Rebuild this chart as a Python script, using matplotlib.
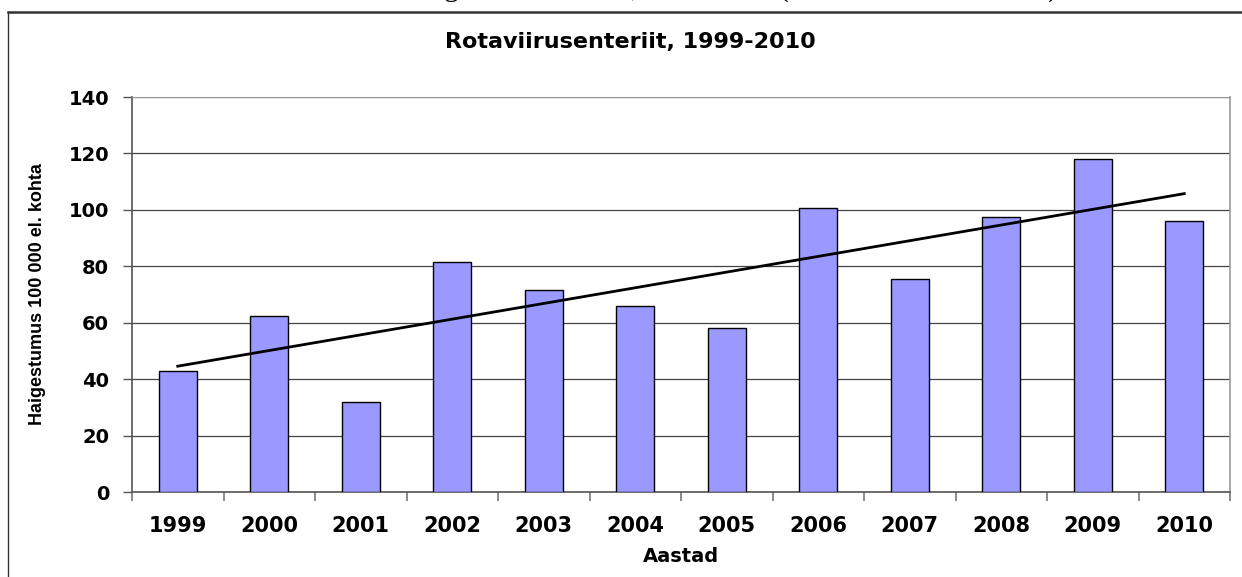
import numpy as np
import matplotlib
matplotlib.use("Agg")
import matplotlib.pyplot as plt
from matplotlib.lines import Line2D

# andmed (loetud jooniselt)
years = ["1999", "2000", "2001", "2002", "2003", "2004",
         "2005", "2006", "2007", "2008", "2009", "2010"]
incidence = [43, 62.5, 32, 81.5, 71.5, 66, 58, 100.5, 75.5, 97.5, 118, 96]
y_ticks = [0, 20, 40, 60, 80, 100, 120, 140]

W, H = 1242, 577
fig = plt.figure(figsize=(W / 100, H / 100), dpi=100)
ax = fig.add_axes([132 / W, 1 - 492 / H, (1230 - 132) / W, (492 - 97) / H])

x = np.arange(len(years))
ax.bar(x, incidence, width=0.41, color="#9999FF", edgecolor="black",
       linewidth=1.0, zorder=3)

# lineaarne trend
k, b = np.polyfit(x, incidence, 1)
ax.plot(x, k * x + b, color="black", linewidth=2.0, zorder=4)

ax.set_xlim(-0.5, len(years) - 0.5)
ax.set_ylim(0, 140)
ax.set_yticks(y_ticks)
ax.set_yticklabels([str(v) for v in y_ticks], fontsize=14, fontweight="bold")
ax.set_xticks(x)
ax.set_xticklabels(years, fontsize=15, fontweight="bold")
ax.set_xticks(np.arange(-0.5, len(years)), minor=True)
ax.tick_params(axis="x", which="major", length=0, pad=17)
ax.tick_params(axis="x", which="minor", length=6.5, width=1.2, color="#777777")
ax.tick_params(axis="y", length=6.5, width=1.0, color="#555555", pad=10)

ax.yaxis.grid(True, color="#444444", linewidth=0.9, zorder=0)
ax.set_axisbelow(True)
ax.spines["left"].set_color("#555555")
ax.spines["bottom"].set_color("#555555")
ax.spines["left"].set_linewidth(1.2)
ax.spines["bottom"].set_linewidth(1.2)
ax.spines["top"].set_color("#999999")
ax.spines["right"].set_color("#999999")
ax.spines["right"].set_linewidth(1.2)

# tekstid
fig.text(630 / W, 1 - 42 / H, "Rotaviirusenteriit, 1999-2010", ha="center",
         va="center", fontsize=16, fontweight="bold")
fig.text(681 / W, 1 - 557 / H, "Aastad", ha="center", va="center",
         fontsize=14, fontweight="bold")
fig.text(37.5 / W, 1 - 294 / H, "Haigestumus 100 000 el. kohta", rotation=90,
         ha="center", va="center", fontsize=13, fontweight="bold",
         family="Liberation Sans")

# ülemine pealkiri on originaalis lehe servast ära lõigatud
fig.text(620 / W, 1 + 4 / H,
         "Rotaviirusenteriidi haigestumus Eestis, 1999-2010 (100 000 elaniku kohta)",
         ha="center", va="baseline", fontsize=21, family="Liberation Serif")
fig.add_artist(Line2D([8 / W, 1], [1 - 12 / H, 1 - 12 / H], color="#333333",
                      linewidth=1.8, transform=fig.transFigure))
fig.add_artist(Line2D([8 / W, 8 / W], [0, 1 - 12 / H], color="#333333",
                      linewidth=1.0, transform=fig.transFigure))

fig.savefig("out.png", dpi=100)
